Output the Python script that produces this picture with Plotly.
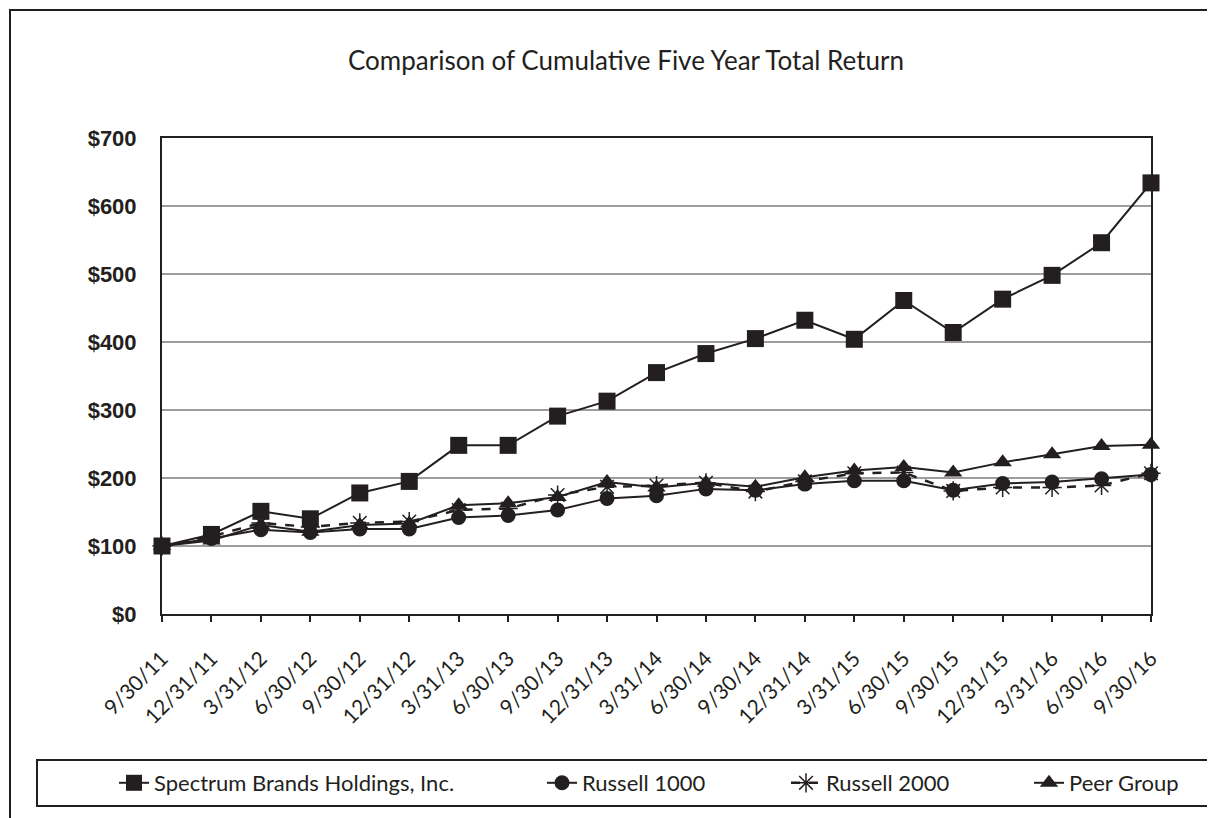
import plotly.graph_objects as go

dates = ["9/30/11", "12/31/11", "3/31/12", "6/30/12", "9/30/12", "12/31/12", "3/31/13",
         "6/30/13", "9/30/13", "12/31/13", "3/31/14", "6/30/14", "9/30/14", "12/31/14",
         "3/31/15", "6/30/15", "9/30/15", "12/31/15", "3/31/16", "6/30/16", "9/30/16"]

spectrum = [100, 117, 151, 140, 178, 195, 248, 248, 291, 313, 355, 383, 405, 432,
            404, 461, 414, 463, 498, 546, 634]
russell_1000 = [100, 111, 124, 120, 125, 125, 142, 145, 153, 170, 174, 184, 182, 191,
                196, 196, 182, 192, 194, 199, 205]
russell_2000 = [100, 114, 134, 128, 134, 136, 153, 155, 175, 187, 189, 193, 180, 195,
                207, 208, 181, 186, 186, 189, 207]
peer_group = [100, 108, 131, 121, 131, 133, 160, 163, 172, 194, 186, 193, 187, 201,
              211, 216, 208, 223, 235, 247, 249]

series_names = ["Spectrum Brands Holdings, Inc.", "Russell 1000", "Russell 2000", "Peer Group"]
y_tickvals = [0, 100, 200, 300, 400, 500, 600, 700]
y_ticktext = ["$0", "$100", "$200", "$300", "$400", "$500", "$600", "$700"]
title_text = "Comparison of Cumulative Five Year Total Return"

INK = "#231f20"
TXT_FONT = "Lato"

fig = go.Figure()

# drawing order: lower series first, spectrum on top
fig.add_trace(go.Scatter(
    x=dates, y=peer_group, name=series_names[3], mode="lines+markers",
    line=dict(color=INK, width=2), marker=dict(symbol="triangle-up", size=16, color=INK),
    cliponaxis=False, legend="legend4"))
fig.add_trace(go.Scatter(
    x=dates, y=russell_2000, name=series_names[2], mode="lines+markers",
    line=dict(color=INK, width=2.5, dash="dash"),
    marker=dict(symbol="asterisk-open", size=16, color=INK, line=dict(color=INK, width=1.5)),
    cliponaxis=False, legend="legend3"))
fig.add_trace(go.Scatter(
    x=dates, y=russell_1000, name=series_names[1], mode="lines+markers",
    line=dict(color=INK, width=2), marker=dict(symbol="circle", size=15, color=INK),
    cliponaxis=False, legend="legend2"))
fig.add_trace(go.Scatter(
    x=dates, y=spectrum, name=series_names[0], mode="lines+markers",
    line=dict(color=INK, width=2), marker=dict(symbol="square", size=17, color=INK),
    cliponaxis=False, legend="legend"))

OFF = 8  # page body offset
W, H = 1215, 818
L, T = 162 - OFF, 138 - OFF
R = W - (1151 - OFF)
B = H - (614 - OFF)
pw, ph = W - L - R, H - T - B


def px(xs):
    return (xs - OFF - L) / pw


def py(ys):
    return (H - B - (ys - OFF)) / ph


leg_common = dict(orientation="h", yanchor="middle", y=py(783), xanchor="left",
                  font=dict(family=TXT_FONT, size=22, color=INK),
                  bgcolor="rgba(0,0,0,0)", borderwidth=0, visible=True)

fig.update_layout(
    width=W, height=H,
    margin=dict(l=L, r=R, t=T, b=B),
    paper_bgcolor="white", plot_bgcolor="white",
    showlegend=True,
    title=dict(text=title_text, x=px(626), xref="paper", xanchor="center",
               y=1 - (61 - OFF) / H, yanchor="middle",
               font=dict(family=TXT_FONT, size=26, color=INK)),
    xaxis=dict(type="category", range=[0, len(dates) - 1], showgrid=False,
               showline=True, linecolor=INK, linewidth=2, mirror=True,
               ticks="outside", ticklen=6, tickwidth=1.5, tickcolor=INK,
               tickangle=-45, ticklabelstandoff=16,
               tickfont=dict(family=TXT_FONT, size=21, color=INK)),
    yaxis=dict(range=[0, 700], tickmode="array", tickvals=y_tickvals, ticktext=y_ticktext,
               showgrid=True, gridcolor="#9d9d9d", gridwidth=1.5,
               showline=True, linecolor=INK, linewidth=2, mirror=True,
               zeroline=False, ticks="", ticklabelstandoff=19,
               tickfont=dict(family="Liberation Sans", size=22, color=INK, weight="bold")),
    legend=dict(x=px(114), **leg_common),
    legend2=dict(x=px(542), **leg_common),
    legend3=dict(x=px(786), **leg_common),
    legend4=dict(x=px(1029), **leg_common),
    shapes=[
        dict(type="rect", xref="paper", yref="paper",
             x0=px(10), x1=px(1240), y0=py(840), y1=py(10),
             line=dict(color=INK, width=2), fillcolor="rgba(0,0,0,0)", layer="below"),
        dict(type="rect", xref="paper", yref="paper",
             x0=px(37), x1=px(1213), y0=py(806), y1=py(760),
             line=dict(color=INK, width=2), fillcolor="rgba(0,0,0,0)", layer="below"),
    ],
)

fig.write_html("out.html")
